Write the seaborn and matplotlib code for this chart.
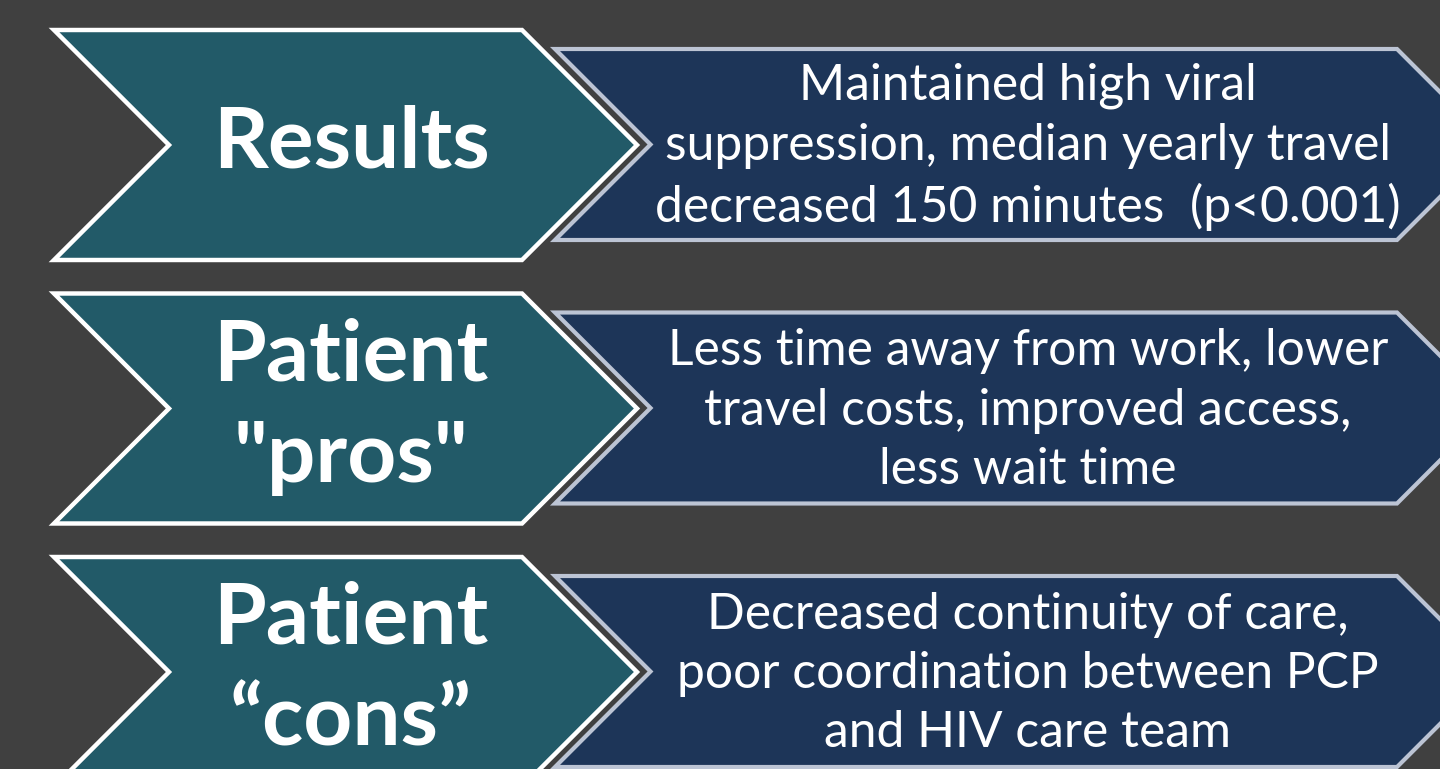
import numpy as np
import matplotlib
matplotlib.use("Agg")
import matplotlib.pyplot as plt
from matplotlib.patches import Polygon
import seaborn as sns

# labels and descriptions
labels = ['Results', 'Patient\n"pros"', 'Patient\n\u201ccons\u201d']
details = [
    'Maintained high viral\nsuppression, median yearly travel\ndecreased 150 minutes  (p<0.001)',
    'Less time away from work, lower\ntravel costs, improved access,\nless wait time',
    'Decreased continuity of care,\npoor coordination between PCP\nand HIV care team',
]

bg = '#404040'
teal = '#225a68'
navy = '#1d3558'
navy_edge = '#bcc4d4'

sns.set_style("white")
plt.rcParams['font.family'] = ['Lato', 'DejaVu Sans']

fig = plt.figure(figsize=(14.4, 7.69), dpi=100, facecolor=bg)
ax = fig.add_axes([0, 0, 1, 1])
ax.set_facecolor(bg)
ax.set_xlim(0, 1440)
ax.set_ylim(769, 0)
ax.axis('off')


def chevron(x0, x1, top, bot):
    h = (bot - top) / 2
    mid = top + h
    return np.array([[x0, top], [x1, top], [x1 + h, mid],
                     [x1, bot], [x0, bot], [x0 + h, mid]])


step = 263.5
for i, (lab, det) in enumerate(zip(labels, details)):
    off = i * step
    # left (teal) chevron
    pts = chevron(54, 522, 30 + off, 260 + off)
    ax.add_patch(Polygon(pts, closed=True, facecolor=teal,
                         edgecolor='white', linewidth=3.2, joinstyle='miter'))
    # right (navy) chevron
    pts = chevron(555, 1397, 49 + off, 240 + off)
    ax.add_patch(Polygon(pts, closed=True, facecolor=navy,
                         edgecolor=navy_edge, linewidth=3.0, joinstyle='miter'))

    ax.text(351, 143 + off, lab, ha='center', va='center', color='white',
            fontsize=61.5, fontweight='bold', linespacing=1.39)
    ax.text(1028, 147 + off, det, ha='center', va='center', color='white',
            fontsize=35.8, linespacing=1.36)

fig.savefig('out.png', dpi=100, facecolor=bg)
